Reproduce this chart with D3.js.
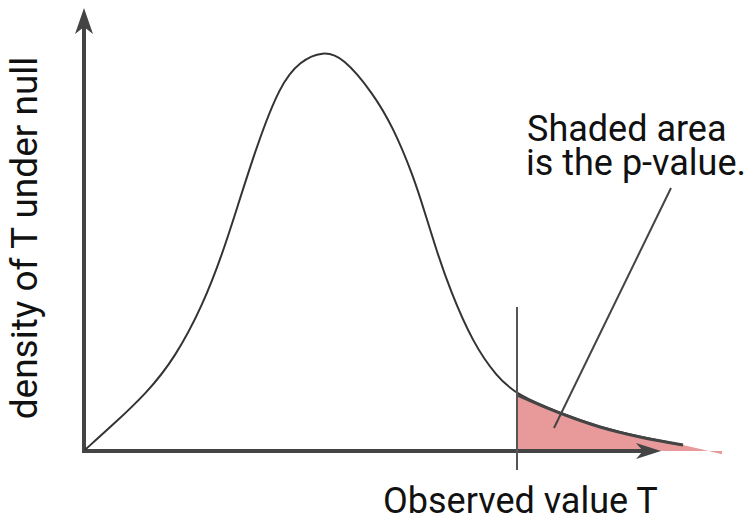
<!DOCTYPE html>
<html>
<head>
<meta charset="utf-8">
<script src="https://cdn.jsdelivr.net/npm/d3@7"></script>
<style>
  html, body { margin: 0; padding: 0; background: #fff; }
  text { font-family: Roboto, "Noto Sans", sans-serif; fill: #111; }
</style>
</head>
<body>
<svg id="chart" width="755" height="523"></svg>
<script>
// ---- data (x in units of T, y in density units) ----
const curveX = [0.016, 0.455, 0.987, 1.426, 1.865, 2.179, 2.398, 2.712, 3.072, 3.386, 3.746, 4.060, 4.530, 4.843, 5.157, 5.345, 5.533, 5.737, 6.097, 6.473, 6.787, 7.461, 8.088, 8.715, 9.389];
const curveY = [0.003, 0.066, 0.146, 0.234, 0.367, 0.500, 0.610, 0.769, 0.920, 0.980, 1.005, 0.990, 0.899, 0.814, 0.693, 0.598, 0.500, 0.405, 0.271, 0.186, 0.141, 0.095, 0.060, 0.035, 0.015];
const tailX = [6.787, 7.461, 8.088, 8.715, 9.389, 10.0];
const tailY = [0.141, 0.095, 0.060, 0.035, 0.015, -0.008];
const observedT = 6.787;
const labels = {
  y: "density of T under null",
  x: "Observed value T",
  note: ["Shaded area", "is the p-value."]
};

const svg = d3.select("#chart");
const x = d3.scaleLinear().domain([0, 10]).range([84, 722]);
const y = d3.scaleLinear().domain([0, 1]).range([451, 53]);

// shaded tail
const tail = tailX.map((d, i) => [d, tailY[i]]);
const area = d3.area().x(d => x(d[0])).y0(y(0)).y1(d => y(d[1])).curve(d3.curveMonotoneX);
svg.append("path").datum(tail).attr("d", area).attr("fill", "#e89a9a");

// axes
const axisColor = "#444";
svg.append("line").attr("x1", x(0)).attr("x2", x(0)).attr("y1", y(0) + 1).attr("y2", 20)
  .attr("stroke", axisColor).attr("stroke-width", 4);
svg.append("line").attr("x1", x(0) - 2).attr("x2", 648).attr("y1", y(0)).attr("y2", y(0))
  .attr("stroke", axisColor).attr("stroke-width", 4);
// arrowheads
const ax = x(0);
svg.append("path").attr("d", `M${ax},8 L${ax + 9},34 L${ax},27 L${ax - 9},34 Z`).attr("fill", axisColor);
const ay = y(0);
svg.append("path").attr("d", `M661,${ay} L636,${ay + 8} L643,${ay} L636,${ay - 8} Z`).attr("fill", axisColor);

// curve
const line = d3.line().x((d, i) => x(curveX[i])).y((d, i) => y(curveY[i])).curve(d3.curveBasis);
svg.append("path").datum(curveX).attr("d", line).attr("fill", "none").attr("stroke", "#333").attr("stroke-width", 2);
// thicker stroke along tail top
const tailLine = d3.line().x(d => x(d[0])).y(d => y(d[1])).curve(d3.curveMonotoneX);
svg.append("path").datum(tail.slice(0, 5)).attr("d", tailLine).attr("fill", "none").attr("stroke", "#444").attr("stroke-width", 3);

// observed T line
svg.append("line").attr("x1", x(observedT)).attr("x2", x(observedT)).attr("y1", 307).attr("y2", 470)
  .attr("stroke", "#555").attr("stroke-width", 2);

// annotation pointer
svg.append("line").attr("x1", 554).attr("y1", 428).attr("x2", 671).attr("y2", 188)
  .attr("stroke", "#444").attr("stroke-width", 2);

// texts
const note = svg.append("text").attr("font-size", 36);
note.append("tspan").attr("x", 527).attr("y", 141).text(labels.note[0]);
note.append("tspan").attr("x", 526).attr("y", 175).text(labels.note[1]);
svg.append("text").attr("x", 383).attr("y", 513).attr("font-size", 36).text(labels.x);
svg.append("text").attr("transform", "translate(37,238) rotate(-90)").attr("text-anchor", "middle")
  .attr("font-size", 37).text(labels.y);
</script>
</body>
</html>
